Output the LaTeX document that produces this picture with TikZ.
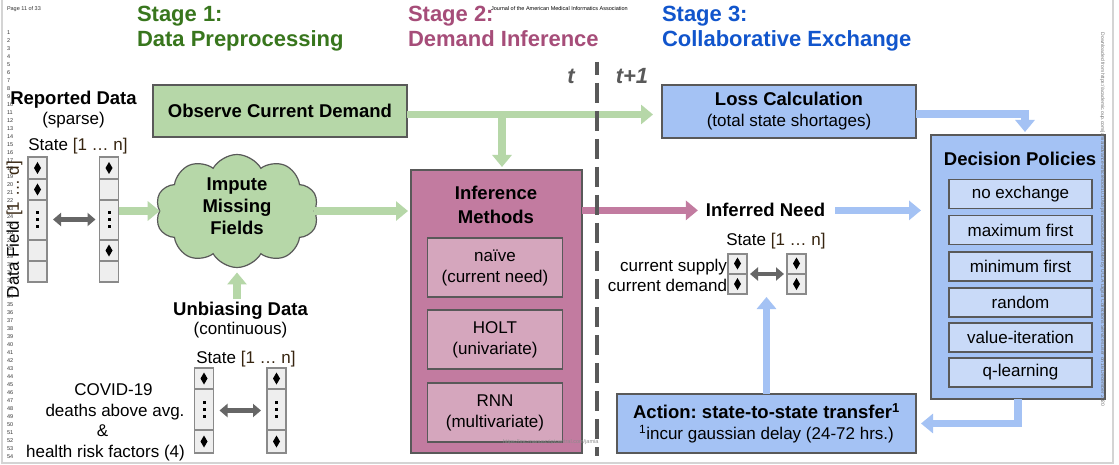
\documentclass[tikz,border=0pt]{standalone}
\usepackage{fontspec}
\setmainfont{Liberation Sans}
\frenchspacing
\usetikzlibrary{arrows.meta,shapes.symbols,calc}
\definecolor{sgreen}{HTML}{38761D}
\definecolor{smag}{HTML}{A64D79}
\definecolor{sblue}{HTML}{1155CC}
\definecolor{bgreen}{HTML}{B6D7A8}
\definecolor{bblue}{HTML}{A4C2F4}
\definecolor{lblue}{HTML}{C9DAF8}
\definecolor{bmag}{HTML}{C27BA0}
\definecolor{lmag}{HTML}{D5A6BD}
\definecolor{edgec}{HTML}{595959}
\definecolor{cellf}{HTML}{EEEEEE}
\definecolor{cellb}{HTML}{8A8A8A}
\definecolor{darrow}{HTML}{666666}
\definecolor{brk}{HTML}{36240F}
\definecolor{pagel}{HTML}{D4D4D4}
\newcommand\fB{\bfseries\fontsize{18.5}{22}\selectfont}
\newcommand\fR{\fontsize{17}{21}\selectfont}
\newcommand\fT{\fontsize{5.5}{6}\selectfont}
\newcommand\brk[1]{{\color{brk}#1}}
\newcommand\dmd[2]{\fill (#1,#2-6) -- (#1+3.5,#2) -- (#1,#2+6) -- (#1-3.5,#2) -- cycle;}
\newcommand\mydots[2]{\foreach \dd in {-7,0,7} {\fill (#1-1.5,#2+\dd-1.5) rectangle ++(3,3);}}
\begin{document}
\begin{tikzpicture}[x=1pt,y=-1pt,
  every node/.style={inner sep=0pt, outer sep=0pt},
  reg/.style={font=\fR},
  bld/.style={font=\fB},
  ttl/.style={font=\bfseries\fontsize{22}{26}\selectfont, anchor=base west},
  box/.style={draw=edgec, line width=1.3pt, align=center, font=\fR},
  cellcol/.style={draw=cellb, fill=cellf, line width=1.1pt, minimum width=19pt},
  celldiv/.style={draw=cellb, line width=1.1pt},
  garrow/.style={draw=bgreen, line width=7.5pt, -{Triangle[width=19pt,length=12pt]}},
  barrow/.style={draw=bblue, line width=7.5pt, -{Triangle[width=19pt,length=12pt]}},
  marrow/.style={draw=bmag, line width=7.5pt, -{Triangle[width=19pt,length=12pt]}},
  darr/.style={draw=darrow, line width=4.5pt, {Triangle[width=13pt,length=8pt]}-{Triangle[width=13pt,length=8pt]}},
  tinyt/.style={font=\fT, text=black!80},
  timet/.style={font=\bfseries\itshape\fontsize{22}{26}\selectfont, text=edgec, anchor=base},
]
\fill[white] (0,0) rectangle (1119,465);
\useasboundingbox (0,0) rectangle (1119,465);
% page frame
\draw[pagel, line width=2pt] (2,0) -- (2,463) -- (1113,463) -- (1113,0);

% stage titles
\node[ttl,text=sgreen] (s1a) at (137,21.5) {Stage 1:};
\node[ttl,text=sgreen] (s1b) at (137,46.5) {Data Preprocessing};
\node[ttl,text=smag] (s2a) at (408,21.5) {Stage 2:};
\node[ttl,text=smag] (s2b) at (408,46.5) {Demand Inference};
\node[ttl,text=sblue] (s3a) at (662,21.5) {Stage 3:};
\node[ttl,text=sblue] (s3b) at (662,46.5) {Collaborative Exchange};
\node[timet] (tt) at (571,84) {t};
\node[timet] (tt1) at (632,84) {t+1};

% ---------- Stage 1 ----------
\node[bld, anchor=base] (rep) at (73.5,105) {Reported Data};
\node[reg, anchor=base] (sparse) at (73.5,125) {(sparse)};
\node[reg, anchor=base] (st1) at (78,151) {State \brk{[1 … n]}};
\node[reg, anchor=base, rotate=90] (dfield) at (19,229.5) {Data Field \brk{[1 … d]}};

\node[cellcol, minimum height=125pt] (cA) at (37.5,219.5) {};
\node[cellcol, minimum height=125pt] (cB) at (109,219.5) {};
\foreach \yy in {179,200,240,261} {
  \draw[celldiv] (cA.west |- 0,\yy) -- (cA.east |- 0,\yy);
  \draw[celldiv] (cB.west |- 0,\yy) -- (cB.east |- 0,\yy);
}
\dmd{37.5}{168}
\dmd{37.5}{189.5}
\mydots{37.5}{220}
\dmd{109}{168}
\mydots{109}{220}
\dmd{109}{250.5}
\draw[darr, shorten <=6pt, shorten >=4pt] (cA.east) -- (cB.west);

\node[cloud, draw=edgec, fill=bgreen, line width=1.2pt, cloud puffs=10, cloud puff arc=120, aspect=1.45, minimum width=163pt, minimum height=113pt] (cloud) at (237,211) {};
\node[bld, align=center] (cloudt) at (237,206) {Impute\\[0pt]Missing\\Fields};

\node[bld, anchor=base] (ubt) at (240.5,315) {Unbiasing Data};
\node[reg, anchor=base] (cont) at (240.5,334) {(continuous)};
\node[reg, anchor=base] (st2) at (246,363) {State \brk{[1 … n]}};

\node[cellcol, minimum height=85pt] (cC) at (204,410.5) {};
\node[cellcol, minimum height=85pt] (cD) at (276.5,410.5) {};
\foreach \yy in {389,430} {
  \draw[celldiv] (cC.west |- 0,\yy) -- (cC.east |- 0,\yy);
  \draw[celldiv] (cD.west |- 0,\yy) -- (cD.east |- 0,\yy);
}
\dmd{204}{378.5}
\mydots{204}{409.5}
\dmd{204}{441.5}
\dmd{276.5}{378.5}
\mydots{276.5}{409.5}
\dmd{276.5}{441.5}
\draw[darr, shorten <=6pt, shorten >=6pt] (cC.east) -- (cD.west);

\node[reg, anchor=base] (cov1) at (113.5,395) {COVID-19};
\node[reg, anchor=base] (cov2) at (115,416) {deaths above avg.};
\node[reg, anchor=base] (cov3) at (102.5,436.5) {\&};
\node[reg, anchor=base] (cov4) at (105.5,457) {health risk factors (4)};

\node[box, fill=bgreen, minimum width=254pt, minimum height=52pt, font=\fB] (obs) at (280,111) {Observe Current Demand};

% ---------- Stage 2 ----------
\node[box, fill=bmag, minimum width=171pt, minimum height=283pt] (inf) at (496.5,311.5) {};
\node[bld, anchor=base] (inft1) at (496,200) {Inference};
\node[bld, anchor=base] (inft2) at (496,223) {Methods};
\node[box, fill=lmag, minimum width=135pt, minimum height=59pt] (naive) at (495,267.5) {naïve\\(current need)};
\node[box, fill=lmag, minimum width=135pt, minimum height=59pt] (holt) at (495,339.5) {HOLT\\(univariate)};
\node[box, fill=lmag, minimum width=135pt, minimum height=59pt] (rnn) at (495,412.5) {RNN\\(multivariate)};

% ---------- Stage 3 ----------
\node[box, fill=bblue, minimum width=254pt, minimum height=53pt] (loss) at (789,111.5) {{\fB Loss Calculation}\\(total state shortages)};
\node[box, fill=bblue, minimum width=174pt, minimum height=264pt] (dec) at (1018,267) {};
\node[bld, anchor=base] (dect) at (1020,166) {Decision Policies};
\node[box, fill=lblue, minimum width=143pt, minimum height=29pt] (p1) at (1020.5,194) {no exchange};
\node[box, fill=lblue, minimum width=143pt, minimum height=29pt] (p2) at (1020.5,230) {maximum first};
\node[box, fill=lblue, minimum width=143pt, minimum height=29pt] (p3) at (1020.5,266.5) {minimum first};
\node[box, fill=lblue, minimum width=143pt, minimum height=29pt] (p4) at (1020.5,302.5) {random};
\node[box, fill=lblue, minimum width=143pt, minimum height=29pt] (p5) at (1020.5,337.5) {value-iteration};
\node[box, fill=lblue, minimum width=143pt, minimum height=29pt] (p6) at (1020.5,372.5) {q-learning};
\node[box, fill=bblue, minimum width=299pt, minimum height=59pt] (act) at (766.5,423.5) {{\fB Action: state-to-state transfer\textsuperscript{1}}\\\textsuperscript{1}incur gaussian delay (24-72 hrs.)};

\node[bld, anchor=base] (need) at (765.5,217) {Inferred Need};
\node[reg, anchor=base] (st3) at (776,246) {State \brk{[1 … n]}};
\node[reg, anchor=base east] (csup) at (727,271) {current supply};
\node[reg, anchor=base east] (cdem) at (727,291) {current demand};
\node[cellcol, minimum height=40pt] (cE) at (737.5,274) {};
\node[cellcol, minimum height=40pt] (cF) at (796.5,274) {};
\draw[celldiv] (cE.west) -- (cE.east);
\draw[celldiv] (cF.west) -- (cF.east);
\dmd{737.5}{263.5}
\dmd{737.5}{284}
\dmd{796.5}{263.5}
\dmd{796.5}{284}
\draw[darr, shorten <=3pt, shorten >=3pt] (cE.east) -- (cF.west);

% ---------- connectors ----------
\draw[garrow] (cB.east |- cloud.west) -- (cloud.west);
\draw[garrow, shorten >=3pt] (cloud.east) -- (cloud.east -| inf.west);
\draw[garrow, shorten <=3pt, shorten >=5pt] (cloud.south |- ubt.north) -- (cloud.south);
\draw[garrow, shorten >=9pt] ([yshift=-3.5pt]obs.east) -- ([yshift=-3.5pt]obs.east -| loss.west);
\coordinate (br) at (502,114.5);
\draw[garrow, shorten >=3pt] (br) -- (br |- inf.north);
\draw[marrow, shorten >=8pt] (inf.east |- need.west) -- (need.west);
\draw[barrow, shorten <=10pt, shorten >=10pt] (need.east) -- (need.east -| dec.west);
\draw[barrow, shorten >=3pt] (act.north) -- (act.north |- cE.south);
\draw[barrow, shorten >=3pt] ([yshift=-2.5pt]loss.east) -| ([xshift=7pt]dec.north);
\draw[barrow, shorten >=5pt] (dec.south) |- (act.east);

% time divider
\draw[edgec, line width=4pt, dash pattern=on 20pt off 8pt, dash phase=7pt] (597,62) -- (597,456);

% ---------- page artefacts ----------
\node[tinyt, anchor=west] (pg) at (7,9) {Page 11 of 33};
\foreach \i in {1,...,54} {\node[tinyt, anchor=west] at (7,{33+8*(\i-1)}) {\i};}
\node[tinyt, text=black] (jour) at (559.5,9) {Journal of the American Medical Informatics Association};
\node[font=\fontsize{5.5}{6}\selectfont, text=black!45, anchor=base west] (url) at (503,443) {https://mc.manuscriptcentral.com/jamia};
\node[font=\fontsize{5}{6}\selectfont, text=black!55, anchor=base west, rotate=-90] (wm) at (1101,33) {Downloaded from https://academic.oup.com/jamia/advance-article/doi/10.1093/jamia/ocaa324/6030869 by UCLA Digital Collections Services user on 16 December 2020};
\end{tikzpicture}
\end{document}
